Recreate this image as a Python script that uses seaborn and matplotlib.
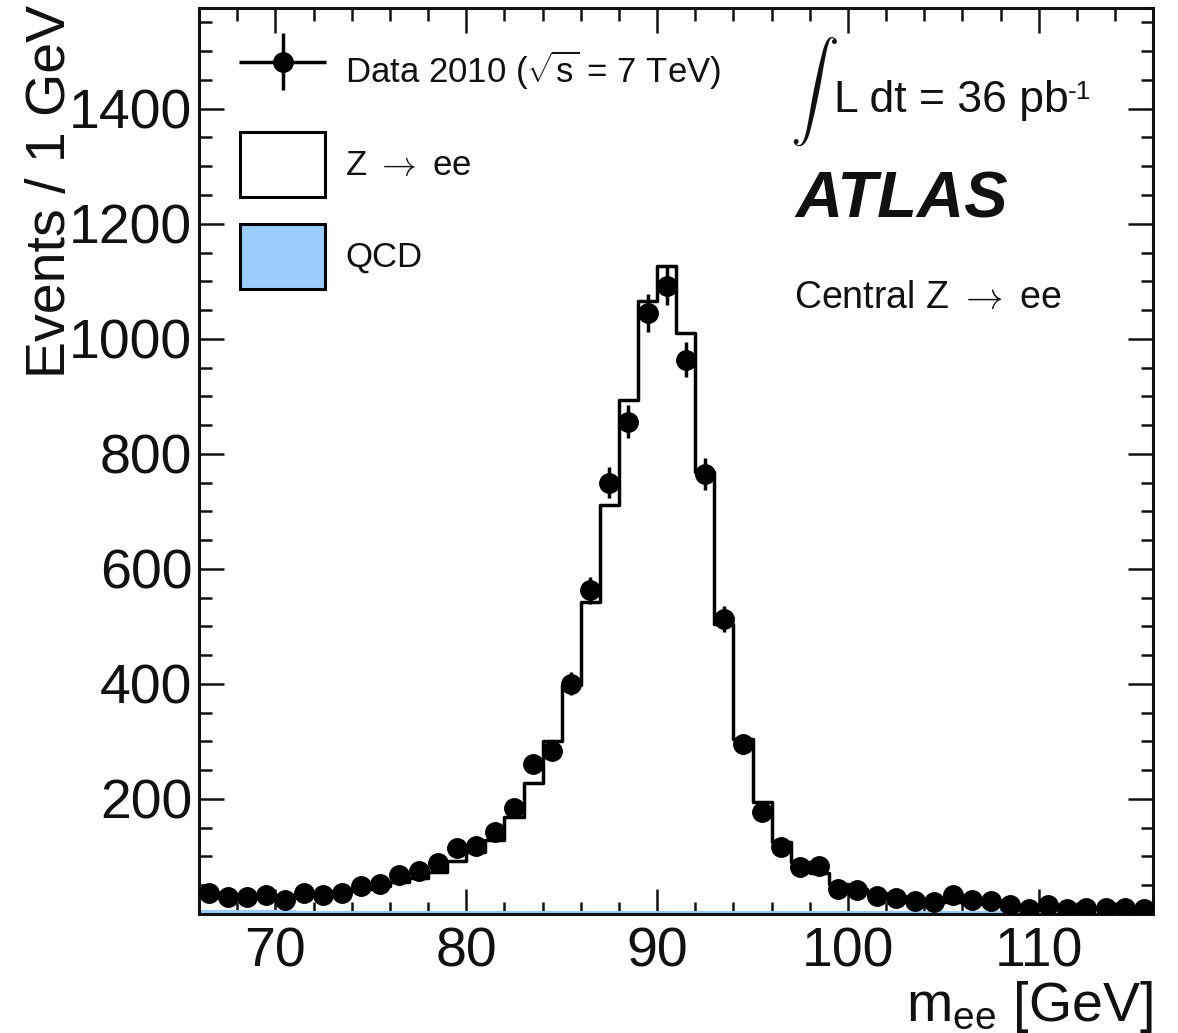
import numpy as np
import pandas as pd
import matplotlib
matplotlib.use("Agg")
import matplotlib.pyplot as plt
import seaborn as sns
from matplotlib.patches import Patch
from matplotlib.legend_handler import HandlerErrorbar

# bins of 1 GeV from 66 to 116
mass = np.arange(66, 116, 1) + 0.5

data_counts = [36, 30, 29, 33, 24, 37, 33, 36, 48, 52,
               68, 74, 88, 114, 119, 142, 184, 261, 284, 400,
               563, 750, 856, 1045, 1092, 964, 765, 513, 296, 178,
               117, 81, 83, 43, 42, 31, 27, 22, 21, 33,
               24, 23, 16, 8, 15, 8, 11, 11, 11, 8]
zee_counts = [24, 24, 25, 26, 28, 31, 33, 36, 40, 45,
              51, 59, 69, 88, 104, 125, 165, 224, 296, 394,
              539, 707, 890, 1061, 1122, 1006, 765, 501, 301, 191,
              123, 88, 68, 50, 41, 34, 28, 24, 20, 18,
              16, 14, 12, 11, 10, 9, 8, 7, 7, 6]
qcd_counts = [5, 5, 5, 5, 5, 4, 4, 4, 4, 4,
              4, 4, 4, 4, 4, 4, 4, 4, 4, 4,
              4, 4, 4, 4, 4, 4, 4, 4, 3, 3,
              3, 3, 3, 3, 3, 3, 3, 3, 3, 3,
              3, 3, 3, 3, 3, 3, 3, 3, 3, 3]

df = pd.DataFrame({"m": mass, "data": data_counts, "zee": zee_counts, "qcd": qcd_counts})
df["total"] = df["zee"] + df["qcd"]

sns.set_theme(style="ticks")
plt.rcParams['font.family'] = ['Liberation Sans', 'DejaVu Sans']
plt.rcParams['mathtext.fontset'] = 'custom'
plt.rcParams['mathtext.rm'] = 'Liberation Sans'
plt.rcParams['mathtext.it'] = 'Liberation Sans:italic'
plt.rcParams['mathtext.bf'] = 'Liberation Sans:bold'
plt.rcParams['text.color'] = '#111111'
plt.rcParams['axes.labelcolor'] = '#111111'

fig = plt.figure(figsize=(11.78, 10.33), dpi=100)
ax = fig.add_axes([0.169, 0.1152, 0.81, 0.877])

sns.histplot(data=df, x="m", weights="qcd", binwidth=1, binrange=(66, 116), element="step",
             fill=True, color="#99ccff", alpha=1, linewidth=1.5, ax=ax)
sns.histplot(data=df, x="m", weights="total", binwidth=1, binrange=(66, 116), element="step",
             fill=False, color="black", linewidth=2.5, ax=ax)

eb = ax.errorbar(df["m"], df["data"], yerr=np.sqrt(df["data"]), xerr=0.5, fmt='o',
                 color='black', ms=14, elinewidth=2.5, capsize=0, zorder=5)

ax.set_xlim(66, 116)
ax.set_ylim(0, 1575)
ax.set_xticks([70, 80, 90, 100, 110])
ax.set_yticks([200, 400, 600, 800, 1000, 1200, 1400])
ax.xaxis.set_minor_locator(matplotlib.ticker.MultipleLocator(2))
ax.yaxis.set_minor_locator(matplotlib.ticker.MultipleLocator(50))
ax.tick_params(which='both', direction='in', top=True, right=True, width=1.8, colors='#111111')
ax.tick_params(which='major', length=18, labelsize=40)
ax.tick_params(which='minor', length=9)
ax.tick_params(axis='x', pad=9)
ax.tick_params(axis='y', pad=5)
for sp in ax.spines.values():
    sp.set_linewidth(2.2)
    sp.set_color('#111111')

ax.set_ylabel("Events / 1 GeV", fontsize=40, loc='top')
ax.yaxis.set_label_coords(-0.128, 1.003)
ax.set_xlabel(r"m$_{\mathrm{ee}}$ [GeV]", fontsize=40, loc='right')
ax.xaxis.set_label_coords(1.0, -0.072)

handles = [eb,
           Patch(facecolor='white', edgecolor='black', linewidth=2.2),
           Patch(facecolor='#99ccff', edgecolor='black', linewidth=2.2)]
labels = [r"Data 2010 ($\sqrt{\mathrm{s}}$ = 7 TeV)", r"Z $\rightarrow$ ee", "QCD"]
leg = ax.legend(handles, labels, loc='upper left', bbox_to_anchor=(0.043, 0.9644),
                frameon=False, fontsize=25, borderpad=0, borderaxespad=0,
                handlelength=2.45, handleheight=2.47, handletextpad=0.58, labelspacing=0.8,
                handler_map={type(eb): HandlerErrorbar(xerr_size=1.25, yerr_size=0.82)})
leg.get_texts()[1].set_math_fontfamily('cm')

ax.text(0.619, 0.907, r"$\int$", transform=ax.transAxes, fontsize=35, va='center', ha='left',
        math_fontfamily='cm')
lum = ax.text(0.665, 0.885, "L dt = 36 pb", transform=ax.transAxes,
              fontsize=32, va='baseline', ha='left')
ax.annotate("-1", xy=(1.0, 1.0), xycoords=lum, fontsize=19, va='top', ha='left')
ax.text(0.625, 0.769, "ATLAS", transform=ax.transAxes, fontsize=47,
        fontweight='bold', fontstyle='italic', va='baseline', ha='left')
ctext = ax.text(0.623, 0.669, r"Central Z $\rightarrow$ ee", transform=ax.transAxes,
                fontsize=27, va='baseline', ha='left')
ctext.set_math_fontfamily('cm')

fig.savefig("out.png", dpi=100)
